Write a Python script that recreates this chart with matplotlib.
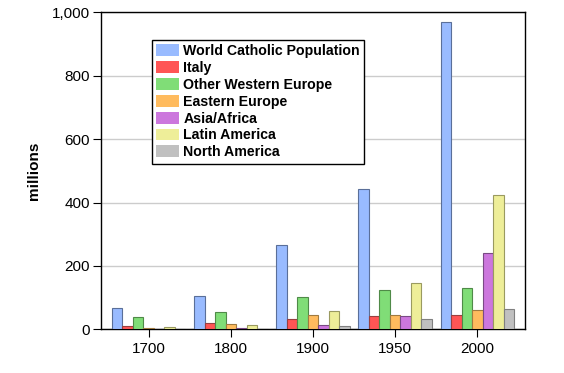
"""Catholic population by region, 1700-2000 (grouped bars)."""

import matplotlib

matplotlib.use("Agg")
import matplotlib.pyplot as plt
import numpy as np
from matplotlib.ticker import FuncFormatter

years = ["1700", "1800", "1900", "1950", "2000"]
regions = [
    "World Catholic Population",
    "Italy",
    "Other Western Europe",
    "Eastern Europe",
    "Asia/Africa",
    "Latin America",
    "North America",
]
world = [68, 106, 266, 443, 969]
italy = [11, 19, 32, 43, 45]
other_west = [40, 54, 101, 123, 130]
eastern = [3, 16, 45, 46, 60]
asia_africa = [1, 3, 13, 43, 240]
latin_america = [6, 13, 57, 146, 423]
north_america = [1, 1, 11, 32, 64]

colors = ["#99bbff", "#ff5555", "#80dd77", "#ffbb5e", "#cc77dd", "#eeee99", "#c0c0c0"]
edges = ["#5a6f99", "#994040", "#4f8a48", "#a07a40", "#7a4a85", "#9a9a60", "#808080"]

plt.rcParams["font.family"] = ["Liberation Sans", "DejaVu Sans"]

fig = plt.figure(figsize=(5.64, 3.73), dpi=100)
ax = fig.add_axes([101 / 564, 1 - 329.3 / 373, 424 / 564, (329.3 - 12.3) / 373])

series = [world, italy, other_west, eastern, asia_africa, latin_america, north_america]
x = np.arange(len(years))
width = 0.128
offset0 = -(len(series) - 1) / 2 * width
for i, (vals, name) in enumerate(zip(series, regions)):
    ax.bar(
        x + offset0 + i * width,
        vals,
        width,
        color=colors[i],
        edgecolor=edges[i],
        linewidth=0.8,
        label=name,
        zorder=3,
    )

ax.set_xlim(-0.58, 4.58)
ax.set_ylim(0, 1000)
ax.set_xticks(x)
ax.set_xticklabels(years)
ax.set_yticks([0, 200, 400, 600, 800, 1000])
ax.yaxis.set_major_formatter(FuncFormatter(lambda v, _: f"{int(v):,}"))
ax.tick_params(axis="both", labelsize=11, length=6, width=0.8, direction="out",
               colors="black")
ax.tick_params(axis="y", pad=2)
ax.tick_params(axis="x", pad=3)
ax.grid(axis="y", color="#cccccc", linewidth=1.0, zorder=0)
for s in ax.spines.values():
    s.set_linewidth(1.0)
    s.set_color("black")

ax.set_ylabel("millions", fontsize=11, fontweight="bold", labelpad=8)

leg = ax.legend(
    loc="upper left",
    bbox_to_anchor=(152 / 564, 1 - 40 / 373),
    bbox_transform=fig.transFigure,
    frameon=True,
    fancybox=False,
    shadow=False,
    framealpha=1,
    edgecolor="black",
    prop={"weight": "bold", "size": 10.2},
    handlelength=1.6,
    handleheight=0.9,
    handletextpad=0.3,
    labelspacing=0.2,
    borderpad=0.3,
    borderaxespad=0,
)
leg.get_frame().set_linewidth(1.0)
for h in leg.legend_handles:
    h.set_edgecolor("none")

fig.savefig("out.png", dpi=100)
